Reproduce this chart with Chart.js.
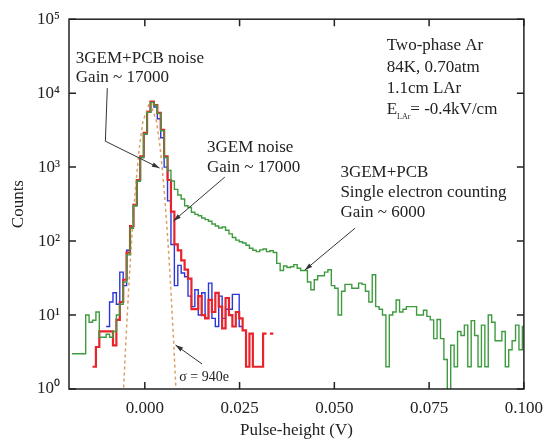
<!DOCTYPE html>
<html lang="en">
<head>
  <meta charset="UTF-8" />
  <title>Pulse-height spectra</title>
  <script src="https://cdn.jsdelivr.net/npm/chart.js"></script>
  <style>
    html, body { margin: 0; padding: 0; background: #fff; }
  </style>
</head>
<body>
  <canvas id="spectrum" width="552" height="443"></canvas>

  <script>
    // histogram binning (V)
    const binStart = -0.0192;
    const binWidth = 0.0009;

    const xTicks = [0, 0.025, 0.05, 0.075, 0.1];
    const yTicks = [1, 10, 100, 1000, 10000, 100000];
    const yTickLabels = ["10\u2070", "10\u00b9", "10\u00b2", "10\u00b3", "10\u2074", "10\u2075"];

    // 3GEM+PCB single electron counting, gain ~6000 (starts at bin 0)
    const greenCounts = [
      3, 3, 3, 3, 10, 8, 8.5, 11, 5, 5,
      5.5, 5, 6, 10, 14, 28, 65, 150, 300, 650,
      1350, 2800, 5500, 7500, 6800, 5300, 3100, 1350, 900, 650,
      500, 420, 370, 300, 285, 245, 230, 220, 205, 195,
      185, 170, 160, 150, 155, 140, 125, 112, 103, 98,
      94, 88, 80, 75, 72, 76, 78, 72, 74, 70,
      50, 40, 46, 44, 45, 48, 43, 40, 40, 28,
      22, 30, 34, 34, 38, 41, 25, 23, 10, 21,
      26, 26, 23, 23, 27, 26, 21, 15, 35, 13,
      12, 10, 2, 10, 11, 16, 11, 12, 13, 13,
      13, 10, 10, 11.6, 9.6, 8.6, 4.8, 8.7, 4.8, 2.5,
      0.5, 3.9, 2, 6, 5.3, 7.3, 2, 8.4, 5.3, 2,
      7.3, 2, 10, 8, 4.5, 4.5, 6, 2, 3.4, 4.5,
      7.3, 3.4, 7
    ];

    // 3GEM+PCB noise, gain ~17000
    const redFirstBin = 6;
    const redCounts = [
      2, 3.7, 6, 6, 6, 6, 3.9, 8.6, 15, 30,
      70, 160, 310, 670, 1400, 2900, 5600, 7700, 6900, 5400,
      3200, 1400, 670, 250, 90, 75, 55, 41, 31, 12,
      12, 18, 10, 9, 16, 11, 20, 13, 6.6, 17,
      10, 7, 11, 9, 6.2, 2, 5.6, 2, 2, 2,
      5.6, null, 5.6
    ];

    // 3GEM noise, gain ~17000
    const blueFirstBin = 10;
    const blueCounts = [
      7, 15, 20, 14, 38, 25, 75, 150, 300, 650,
      1350, 2800, 5500, 7500, 6500, 4500, 2500, 1000, 350, 90,
      25, 47, 37, 33, 18, 13, 22, 10, 20, 9,
      27, 9, 7, 18, 9, 12, 12, 19, 19, 7
    ];

    // gaussian fit (sigma = 940e)
    const fitX = [-0.0058, -0.0056, -0.0050, -0.0042, -0.0035, -0.0025, -0.0015, -0.0005, 0.0013,
                  0.0031, 0.0041, 0.0051, 0.0061, 0.0068, 0.0076, 0.0082, 0.0084];
    const fitY = [0.6, 1, 4.4, 26, 100, 500, 1740, 4140, 7600, 4140, 1740, 500, 100, 26, 4.4, 1, 0.6];

    function histPoints(counts, first) {
      const pts = [];
      counts.forEach((c, k) => {
        const x0 = binStart + (first + k) * binWidth;
        if (c === null) {
          pts.push({ x: x0, y: null });
          return;
        }
        pts.push({ x: x0, y: c }, { x: x0 + binWidth, y: c });
      });
      return pts;
    }

    const serif = "'Liberation Serif', 'Times New Roman', serif";
    const ink = "#222";

    // labels and arrows, placed in data coordinates
    const notes = [
      { x: -0.0182, y: [25400, 14100], lines: ["3GEM+PCB noise", "Gain ~ 17000"] },
      { x: 0.0164, y: [1600, 855], lines: ["3GEM noise", "Gain ~ 17000"] },
      { x: 0.0638, y: [38100, 19500, 10000], lines: ["Two-phase Ar", "84K, 0.70atm", "1.1cm LAr"] },
      { x: 0.0516, y: [733, 393, 211], lines: ["3GEM+PCB", "Single electron counting", "Gain ~ 6000"] }
    ];
    const arrows = [
      [[-0.0099, 11700], [-0.0104, 2240], [0.0039, 970]],
      [[0.0211, 733], [0.00755, 187]],
      [[0.0555, 150], [0.0422, 40.5]],
      [[0.0151, 2.18], [0.0081, 3.93]]
    ];

    function drawArrow(ctx, pts) {
      ctx.beginPath();
      ctx.moveTo(pts[0][0], pts[0][1]);
      for (let i = 1; i < pts.length; i++) ctx.lineTo(pts[i][0], pts[i][1]);
      ctx.stroke();
      const [x1, y1] = pts[pts.length - 2];
      const [x2, y2] = pts[pts.length - 1];
      const ang = Math.atan2(y2 - y1, x2 - x1);
      const len = 8, half = 0.3;
      ctx.beginPath();
      ctx.moveTo(x2, y2);
      ctx.lineTo(x2 - len * Math.cos(ang - half), y2 - len * Math.sin(ang - half));
      ctx.lineTo(x2 - len * Math.cos(ang + half), y2 - len * Math.sin(ang + half));
      ctx.closePath();
      ctx.fill();
    }

    const overlay = {
      id: "overlay",
      afterDatasetsDraw(chart) {
        const { ctx, chartArea: a, scales: { x, y } } = chart;
        const px = v => x.getPixelForValue(v);
        const py = v => y.getPixelForValue(v);
        ctx.save();

        // frame and inward ticks
        ctx.strokeStyle = ink;
        ctx.lineWidth = 1.5;
        ctx.strokeRect(a.left, a.top, a.right - a.left, a.bottom - a.top);
        ctx.beginPath();
        xTicks.forEach(v => {
          const X = px(v);
          ctx.moveTo(X, a.bottom); ctx.lineTo(X, a.bottom - 7);
          ctx.moveTo(X, a.top); ctx.lineTo(X, a.top + 7);
        });
        yTicks.forEach(v => {
          const Y = py(v);
          ctx.moveTo(a.left, Y); ctx.lineTo(a.left + 7, Y);
          ctx.moveTo(a.right, Y); ctx.lineTo(a.right - 7, Y);
        });
        ctx.stroke();

        // arrows
        ctx.strokeStyle = "#333";
        ctx.fillStyle = "#333";
        ctx.lineWidth = 1;
        arrows.forEach(arr => drawArrow(ctx, arr.map(p => [px(p[0]), py(p[1])])));

        // text
        ctx.fillStyle = ink;
        ctx.textBaseline = "alphabetic";
        ctx.textAlign = "left";
        ctx.font = "17px " + serif;
        notes.forEach(n => {
          n.lines.forEach((t, i) => ctx.fillText(t, px(n.x), py(n.y[i])));
        });

        // E_LAr line with subscript
        let ex = px(0.0638);
        const ey = py(5280);
        ctx.fillText("E", ex, ey);
        ex += ctx.measureText("E").width;
        ctx.font = "8px " + serif;
        ctx.fillText("LAr", ex, ey + 5);
        ex += ctx.measureText("LAr").width;
        ctx.font = "17px " + serif;
        ctx.fillText("= -0.4kV/cm", ex, ey);

        ctx.font = "14px " + serif;
        ctx.fillText("\u03c3 = 940e", px(0.0091), py(1.28));

        ctx.restore();
      }
    };

    new Chart(document.getElementById("spectrum"), {
      type: "line",
      data: {
        datasets: [
          {
            label: "3GEM+PCB single electron",
            data: histPoints(greenCounts, 0),
            borderColor: "#3f9b3f",
            borderWidth: 1.4
          },
          {
            label: "Gaussian fit",
            data: fitX.map((v, i) => ({ x: v, y: fitY[i] })),
            borderColor: "#d9a066",
            borderWidth: 1.5,
            borderDash: [3, 3]
          },
          {
            label: "3GEM+PCB noise",
            data: histPoints(redCounts, redFirstBin),
            borderColor: "#e8232b",
            borderWidth: 2.2
          },
          {
            label: "3GEM noise",
            data: histPoints(blueCounts, blueFirstBin),
            borderColor: "#2b36d9",
            borderWidth: 1.4
          }
        ]
      },
      options: {
        responsive: false,
        animation: false,
        spanGaps: false,
        elements: {
          point: { radius: 0 },
          line: { tension: 0, fill: false }
        },
        layout: { padding: { left: 0, top: 19, right: 21, bottom: 0 } },
        plugins: {
          legend: { display: false },
          tooltip: { enabled: false }
        },
        scales: {
          x: {
            type: "linear",
            min: -0.02,
            max: 0.1,
            grid: { display: false, drawTicks: false },
            border: { display: false },
            afterBuildTicks: s => { s.ticks = xTicks.map(v => ({ value: v })); },
            afterFit: s => { s.height = 54; },
            ticks: {
              padding: 9,
              color: ink,
              font: { family: serif, size: 17 },
              maxRotation: 0,
              callback: v => v.toFixed(3)
            },
            title: {
              display: true,
              text: "Pulse-height (V)",
              color: ink,
              font: { family: serif, size: 17 },
              padding: { top: 0, bottom: 2 }
            }
          },
          y: {
            type: "logarithmic",
            min: 1,
            max: 100000,
            grid: { display: false, drawTicks: false },
            border: { display: false },
            afterBuildTicks: s => { s.ticks = yTicks.map(v => ({ value: v })); },
            afterFit: s => { s.width = 69; },
            ticks: {
              padding: 9,
              color: ink,
              font: { family: serif, size: 17 },
              callback: v => yTickLabels[yTicks.indexOf(v)]
            },
            title: {
              display: true,
              text: "Counts",
              color: ink,
              font: { family: serif, size: 17 },
              padding: { top: 8, bottom: 0 }
            }
          }
        }
      },
      plugins: [overlay]
    });
  </script>
</body>
</html>
